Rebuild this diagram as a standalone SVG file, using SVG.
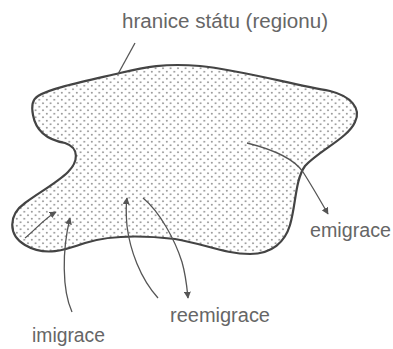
<svg xmlns="http://www.w3.org/2000/svg" width="393" height="349" viewBox="0 0 393 349">
<defs>
<pattern id="dots" width="7.5" height="7" patternUnits="userSpaceOnUse">
<circle cx="1.8" cy="1.7" r="1" fill="#999"/>
<circle cx="5.55" cy="5.2" r="1" fill="#999"/>
</pattern>
<marker id="ah" viewBox="0 0 10 10" refX="9" refY="5" markerWidth="7" markerHeight="7" markerUnits="userSpaceOnUse" orient="auto">
<path d="M0,0 L10,5 L0,10 Z" fill="#555"/>
</marker>
</defs>
<style>
.lbl{font-family:"Liberation Sans",Arial,sans-serif;font-size:20px;fill:#666}
.arr{fill:none;stroke:#555;stroke-width:1.3;marker-end:url(#ah)}
.lead{fill:none;stroke:#555;stroke-width:1.3}
</style>
<rect width="393" height="349" fill="#fff"/>
<g id="region">
<path d="M38,96 C50,88 90,80 120,73 C145,67 165,63 200,66 C240,70 290,84 330,91 C350,96 362,108 355,122 C348,138 320,150 305,166 C295,180 296,205 290,225 C285,242 272,254 250,254 C225,254 205,244 175,239 C140,235 110,235 85,243 C65,250 45,257 25,245 C8,235 8,215 25,203 C40,192 58,182 68,172 C78,162 80,148 65,143 C48,140 36,132 33,115 C31,105 33,99 38,96 Z" fill="url(#dots)" stroke="#444" stroke-width="2.2"/>
</g>
<g id="label-hranice">
<text class="lbl" x="122" y="28" textLength="206" lengthAdjust="spacingAndGlyphs">hranice státu (regionu)</text>
</g>
<g id="label-emigrace">
<text class="lbl" x="310" y="237" textLength="81" lengthAdjust="spacingAndGlyphs">emigrace</text>
</g>
<g id="label-reemigrace">
<text class="lbl" x="170" y="322" textLength="100" lengthAdjust="spacingAndGlyphs">reemigrace</text>
</g>
<g id="label-imigrace">
<text class="lbl" x="32" y="342" textLength="73" lengthAdjust="spacingAndGlyphs">imigrace</text>
</g>
<g id="connectors">
<path class="lead" d="M135,43 L118,74"/>
<path class="arr" d="M247,143 C275,150 295,160 303,172 C312,186 320,200 328,214"/>
<path class="arr" d="M72,312 C62,290 62,250 70,218"/>
<path class="arr" d="M25,238 C35,230 45,218 56,212"/>
<path class="arr" d="M158,298 C140,278 130,250 127,226 C126,215 126,205 127,198"/>
<path class="arr" d="M143,198 C160,212 175,240 182,262 C186,276 187,288 188,298"/>
</g>
</svg>
